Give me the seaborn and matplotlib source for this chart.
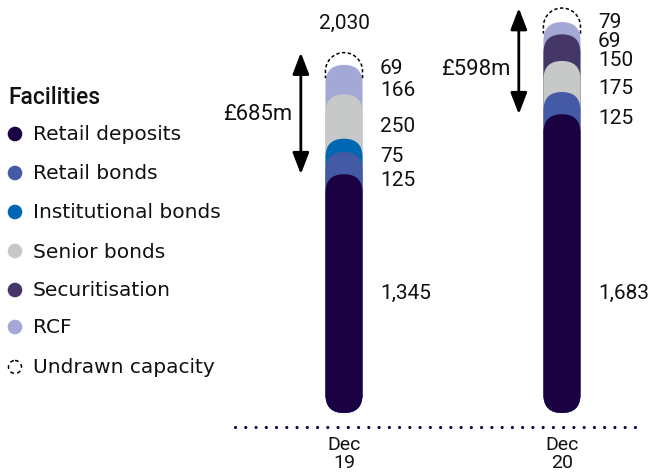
import matplotlib
matplotlib.use("Agg")
import matplotlib.pyplot as plt
import seaborn as sns
import pandas as pd
import numpy as np
from matplotlib.patches import FancyBboxPatch, Circle

# ---------------- data ----------------
periods = ["Dec\n19", "Dec\n20"]
facilities = ["Retail deposits", "Retail bonds", "Institutional bonds",
              "Senior bonds", "Securitisation", "RCF"]
retail_deposits = [1345, 1683]
retail_bonds = [125, 125]
institutional_bonds = [75, 0]
senior_bonds = [250, 175]
securitisation = [0, 150]
rcf = [166, 69]
undrawn_capacity = [69, 79]
headroom_labels = ["£685m", "£598m"]
total_labels = ["2,030", None]

colors = ["#1a0142", "#445aa6", "#0068b2", "#c7c8c8", "#443768", "#a4a8d6"]

# label positions (layout only, in value units)
label_y = {
    0: [682, 1318, 1448, 1617, None, 1825, 1944],
    1: [682, 1662, None, 1831, 1994, 2096, 2203],
}
total_label_y = 2203

series = [retail_deposits, retail_bonds, institutional_bonds,
          senior_bonds, securitisation, rcf]

rows = []
for i, p in enumerate(periods):
    cum = 0
    for f, vals in zip(facilities, series):
        v = vals[i]
        cum += v
        if v > 0:
            rows.append({"period": p, "facility": f, "value": v, "top": cum})
df = pd.DataFrame(rows)
totals = [sum(s[i] for s in series) + undrawn_capacity[i] for i in range(len(periods))]

# ---------------- figure ----------------
sns.set_theme(style="white")
plt.rcParams['font.family'] = ['Roboto', 'DejaVu Sans']
FS_NUM = 15
LEG_FONT = ['DejaVu Sans']
FS_LEG = 14.5
TXT = "#111111"

W, H = 660, 477
fig = plt.figure(figsize=(W / 100, H / 100), dpi=100)
ax = fig.add_axes([230 / W, 49 / H, 420 / W, 428 / H])

draw_order = facilities[::-1]
pal = dict(zip(facilities, colors))
sns.barplot(data=df, x="period", y="top", hue="facility", order=periods,
            hue_order=draw_order, palette=pal, dodge=False, width=0.17,
            saturation=1, errorbar=None, legend=False, ax=ax)

ax.set_xlim(-0.523, 1.404)
ax.set_ylim(-79, 2332)

# pixel aspect to make round caps circular
p0 = ax.transData.transform((0, 0))
p1 = ax.transData.transform((1, 1))
px_x = p1[0] - p0[0]
px_y = p1[1] - p0[1]

for rect in list(ax.patches):
    h = rect.get_height()
    if not np.isfinite(h) or h <= 0:
        rect.remove()
        continue
    x, w, fc = rect.get_x(), rect.get_width(), rect.get_facecolor()
    rect.remove()
    rx = w / 2
    ry = rx * px_x / px_y
    ax.add_patch(FancyBboxPatch((x, 0), w, h,
                                boxstyle=f"round,pad=0,rounding_size={rx}",
                                mutation_aspect=ry / rx, facecolor=fc,
                                edgecolor="none", lw=0))

# undrawn capacity: dashed cap outline
bw = 0.17
rx = bw / 2
ry = rx * px_x / px_y
t = np.linspace(0, np.pi, 60)
for i, tot in enumerate(totals):
    xs = np.concatenate([[i + rx], i + rx * np.cos(t), [i - rx]])
    ys = np.concatenate([[tot - ry - 40], tot - ry + ry * np.sin(t), [tot - ry - 40]])
    ax.plot(xs, ys, color="black", lw=1.1, ls=(0, (2.2, 1.6)), zorder=1)

# value labels
for i in range(len(periods)):
    vals = [s[i] for s in series] + [undrawn_capacity[i]]
    for j, v in enumerate(vals):
        yy = label_y[i][j]
        if v > 0 and yy is not None:
            ax.text(i + 0.165, yy, f"{v:,}", ha="left", va="center",
                    fontsize=FS_NUM, color=TXT)
    if total_labels[i]:
        ax.text(i, total_label_y, total_labels[i], ha="center", va="center",
                fontsize=FS_NUM, color=TXT)

# headroom arrows
for i in range(len(periods)):
    xa = i - 0.198
    ax.annotate("", xy=(xa, totals[i]), xytext=(xa, retail_deposits[i]),
                arrowprops=dict(arrowstyle="<|-|>,head_length=1.3,head_width=0.5",
                                mutation_scale=10, color="black", lw=2,
                                shrinkA=0, shrinkB=0))
    ym = (totals[i] + retail_deposits[i]) / 2 - (0 if i == 0 else 40)
    ax.text(xa - 0.04, ym, headroom_labels[i], ha="right", va="center",
            fontsize=FS_NUM + 0.8, color=TXT)

# dotted baseline
ax.plot([-0.5, 1.367], [-79, -79], color="#1a0142", lw=2.3,
        ls=(0, (0.01, 3.2)), dash_capstyle="round", clip_on=False)

ax.set_xticks([0, 1])
ax.set_xticklabels(periods, fontsize=14, color=TXT, linespacing=0.95)
ax.tick_params(axis="x", length=0, pad=6)
ax.set_yticks([])
ax.set_xlabel("")
ax.set_ylabel("")
for s in ax.spines.values():
    s.set_visible(False)

# legend (pixel coordinates overlay)
lax = fig.add_axes([0, 0, 1, 1], zorder=-1)
lax.set_xlim(0, W)
lax.set_ylim(H, 0)
lax.axis("off")
lax.text(8, 97, "Facilities", ha="left", va="center", fontsize=16.5,
         fontweight="medium", color=TXT)
leg_y = [135, 174, 213, 252, 291, 328, 368]
for f, c, yy in zip(facilities, colors, leg_y):
    lax.add_patch(Circle((15, yy), 7.3, facecolor=c, edgecolor="none"))
    lax.text(33, yy, f, ha="left", va="center", fontsize=FS_LEG, color=TXT,
             family=LEG_FONT)
lax.add_patch(Circle((15, leg_y[-1]), 6.5, facecolor="none", edgecolor="black",
                     lw=1.1, ls=(0, (2.5, 2.2))))
lax.text(33, leg_y[-1], "Undrawn capacity", ha="left", va="center",
         fontsize=FS_LEG, color=TXT, family=LEG_FONT)

fig.savefig("out.png", dpi=100)
